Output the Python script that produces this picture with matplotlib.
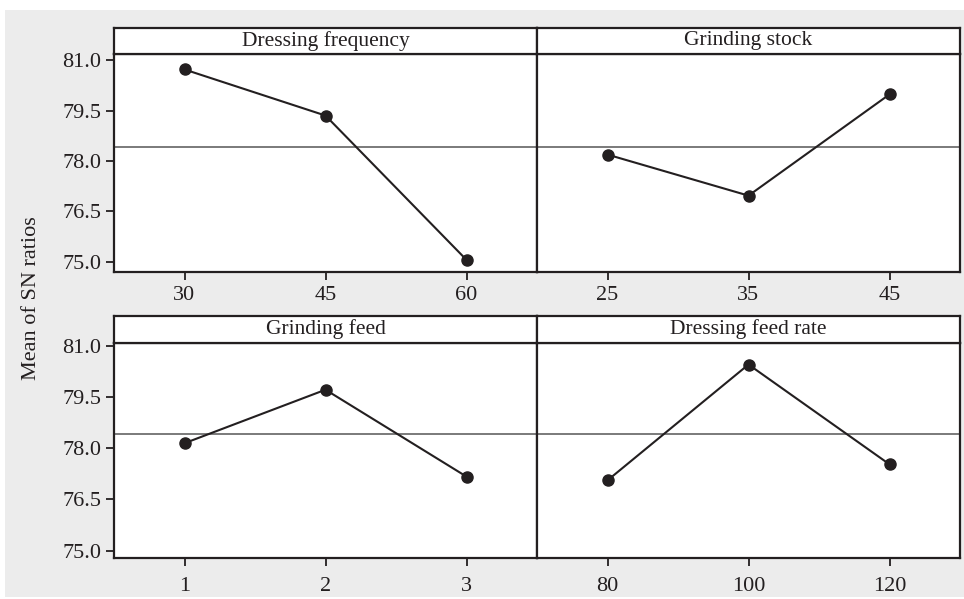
import matplotlib
matplotlib.use("Agg")
import matplotlib.pyplot as plt
from matplotlib.patches import Rectangle

plt.rcParams["font.family"] = ["Liberation Serif", "DejaVu Serif"]

# Main effects of each factor on the mean SN ratio
factors = ["Dressing frequency", "Grinding stock", "Grinding feed", "Dressing feed rate"]
levels = [
    ["30", "45", "60"],
    ["25", "35", "45"],
    ["1", "2", "3"],
    ["80", "100", "120"],
]
sn_means = [
    [80.72, 79.35, 75.06],
    [78.19, 76.97, 79.98],
    [78.15, 79.72, 77.17],
    [77.06, 80.46, 77.53],
]
grand_mean = 78.41
yticks = [75.0, 76.5, 78.0, 79.5, 81.0]

W, H = 964, 599
fig = plt.figure(figsize=(W / 100, H / 100), dpi=100)
fig.patch.set_facecolor("white")
backdrop = Rectangle((5 / W, 2 / H), 1 - 5 / W, 1 - 12 / H,
                     transform=fig.transFigure, facecolor="#ececec",
                     edgecolor="none", zorder=-10)
fig.add_artist(backdrop)

ink = "#231f20"

def fx(px):
    return px / W

def fy(px):
    return 1 - px / H

# pixel layout: (left, right) columns, (strip top, strip bottom, data bottom) rows
cols = [(114, 537), (537, 960)]
rows = [
    dict(top=28, strip=54, bottom=272, ylim=(74.70, 81.18), xpad=4),
    dict(top=316, strip=342.7, bottom=557.7, ylim=(74.79, 81.10), xpad=8),
]

FS_TICK = 16
FS_STRIP = 15.5

for i, (name, labs, vals) in enumerate(zip(factors, levels, sn_means)):
    r, c = divmod(i, 2)
    row = rows[r]
    x0, x1 = cols[c]

    ax = fig.add_axes([fx(x0), fy(row["bottom"]), fx(x1 - x0),
                       (row["bottom"] - row["strip"]) / H])
    ax.set_facecolor("white")
    xs = list(range(1, len(vals) + 1))
    ax.axhline(grand_mean, color="#7a7a7a", lw=1.4, zorder=1)
    ax.plot(xs, vals, color=ink, lw=1.5, marker="o", ms=8,
            markerfacecolor=ink, markeredgecolor=ink, zorder=3)
    ax.set_xlim(0.5, 3.5)
    ax.set_ylim(*row["ylim"])
    ax.set_xticks(xs)
    ax.set_xticklabels(labs)
    ax.set_yticks(yticks)
    ax.set_yticklabels([f"{v:.1f}" for v in yticks])
    ax.tick_params(axis="both", direction="out", length=6, width=1.3,
                   color=ink, labelsize=FS_TICK, labelcolor=ink)
    ax.tick_params(axis="x", pad=row["xpad"])
    ax.tick_params(axis="y", pad=3)
    if c == 1:
        ax.tick_params(axis="y", left=False, labelleft=False)
    for sp in ax.spines.values():
        sp.set_color(ink)
        sp.set_linewidth(1.6)

    sax = fig.add_axes([fx(x0), fy(row["strip"]), fx(x1 - x0),
                        (row["strip"] - row["top"]) / H])
    sax.set_facecolor("white")
    sax.set_xticks([])
    sax.set_yticks([])
    for sp in sax.spines.values():
        sp.set_color(ink)
        sp.set_linewidth(1.6)
    sax.text(0.5, 0.5, name, ha="center", va="center", fontsize=FS_STRIP,
             color=ink, transform=sax.transAxes)

fig.text(fx(32), fy(298), "Mean of SN ratios", rotation=90, ha="center",
         va="center", fontsize=FS_TICK, color=ink)

fig.savefig("out.png", dpi=100, facecolor=fig.get_facecolor())
